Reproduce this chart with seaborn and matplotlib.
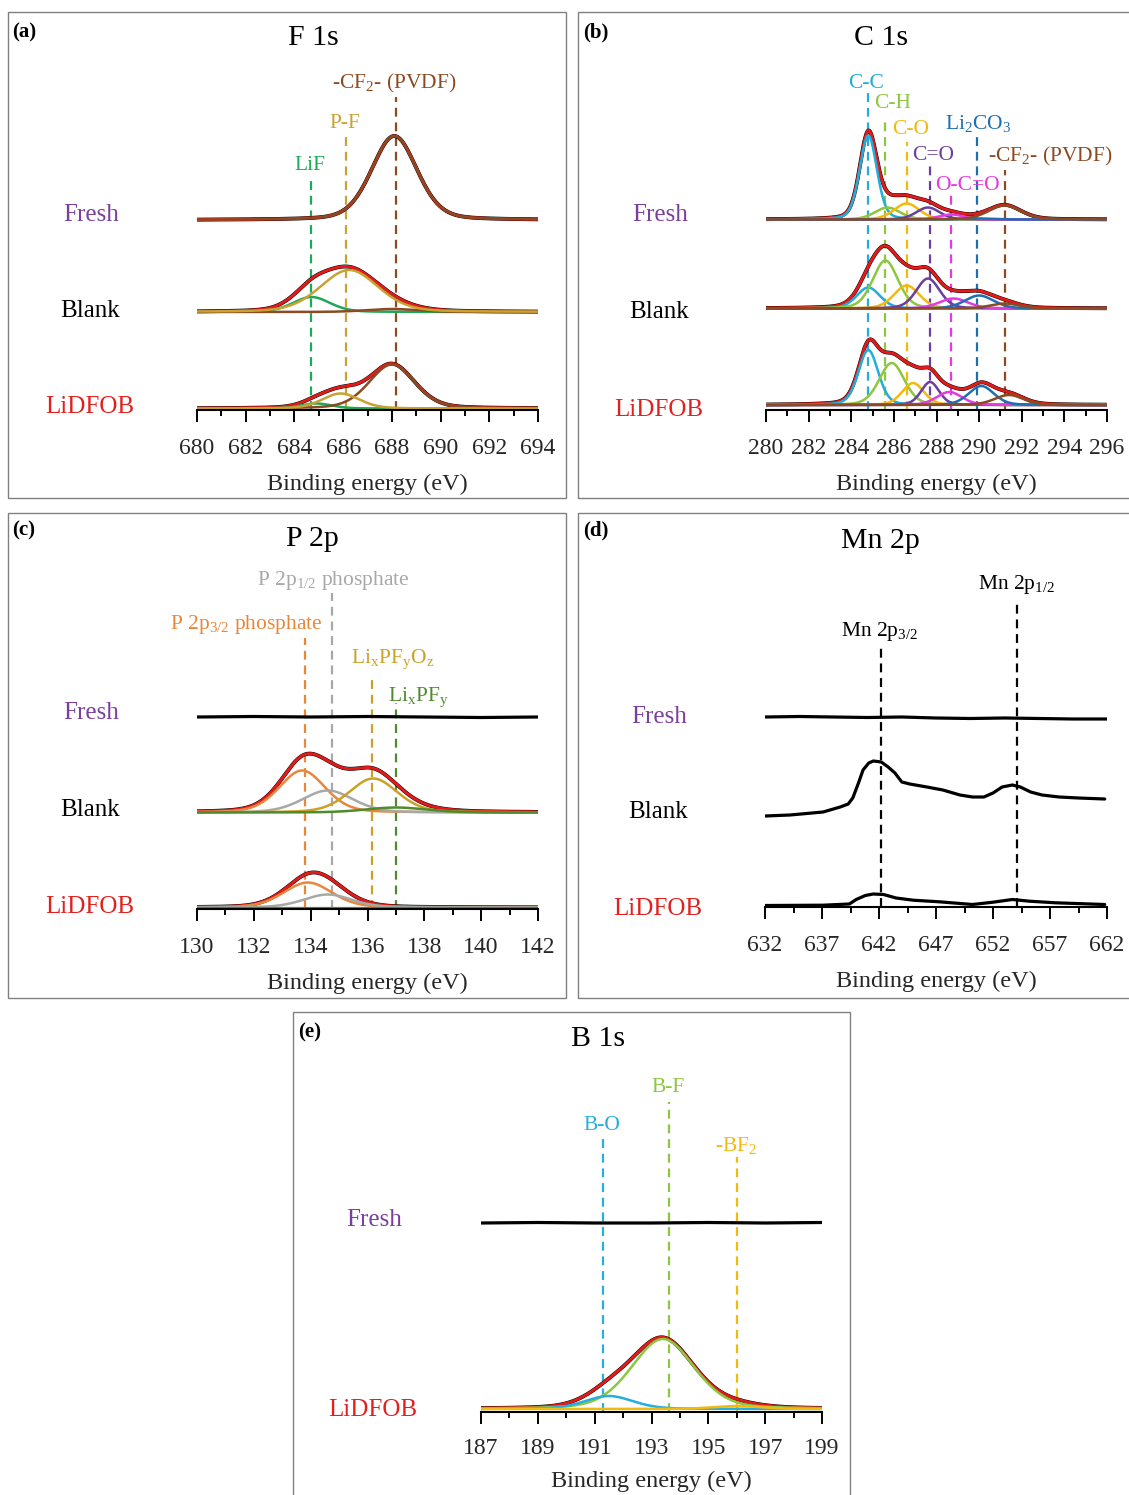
import numpy as np
import matplotlib
matplotlib.use("Agg")
import matplotlib.pyplot as plt
import seaborn as sns
from matplotlib.patches import Rectangle

# ---------------------------------------------------------------- data
# Fitted components: centre (eV), height (a.u.), FWHM (eV)

# F 1s : LiF, P-F, -CF2- (PVDF)
f1s_names = ["LiF", "P-F", "-CF$_2$- (PVDF)"]
f1s_marker_ev = [684.7, 686.1, 688.15]
f1s_fresh_center = [684.7, 686.2, 688.1]
f1s_fresh_height = [0, 0, 84]
f1s_fresh_fwhm = [1.8, 2.8, 2.2]
f1s_blank_center = [684.7, 686.25, 688.0]
f1s_blank_height = [15, 42, 3]
f1s_blank_fwhm = [1.8, 2.8, 2.5]
f1s_lidfob_center = [684.9, 685.9, 688.0]
f1s_lidfob_height = [5, 15, 44]
f1s_lidfob_fwhm = [1.5, 1.8, 2.2]

# C 1s : C-C, C-H, C-O, C=O, O-C=O, Li2CO3, -CF2- (PVDF)
c1s_names = ["C-C", "C-H", "C-O", "C=O", "O-C=O", "Li$_2$CO$_3$", "-CF$_2$- (PVDF)"]
c1s_marker_ev = [284.8, 285.6, 286.6, 287.7, 288.7, 289.9, 291.2]
c1s_fresh_center = [284.8, 285.7, 286.6, 287.6, 288.7, 290.0, 291.2]
c1s_fresh_height = [84, 12, 16, 12, 5, 1, 14]
c1s_fresh_fwhm = [0.95, 1.4, 1.4, 1.3, 1.4, 1.6, 1.8]
c1s_blank_center = [284.8, 285.6, 286.6, 287.6, 288.8, 290.0, 291.2]
c1s_blank_height = [21, 48, 23, 30, 10, 13, 5]
c1s_blank_fwhm = [1.3, 1.4, 1.4, 1.3, 1.6, 1.6, 1.6]
c1s_lidfob_center = [284.8, 285.9, 286.9, 287.7, 288.6, 290.1, 291.4]
c1s_lidfob_height = [55, 42, 22, 23, 13, 19, 10]
c1s_lidfob_fwhm = [1.1, 1.4, 1.2, 1.0, 1.4, 1.4, 1.6]

# P 2p : P 2p3/2 phosphate, P 2p1/2 phosphate, LixPFyOz, LixPFy
p2p_names = ["P 2p$_{3/2}$ phosphate", "P 2p$_{1/2}$ phosphate",
             "Li$_x$PF$_y$O$_z$", "Li$_x$PF$_y$"]
p2p_marker_ev = [133.8, 134.75, 136.15, 137.0]
p2p_fresh_ev = [130, 132, 134, 136, 138, 140, 142]
p2p_fresh_int = [0, 0.5, 0, 0.5, 0, -0.5, 0]
p2p_blank_center = [133.7, 134.6, 136.2, 137.0]
p2p_blank_height = [42, 22, 34, 5]
p2p_blank_fwhm = [1.9, 2.1, 2.0, 2.5]
p2p_lidfob_center = [133.9, 134.6, 136.2, 137.0]
p2p_lidfob_height = [25, 13, 0, 0]
p2p_lidfob_fwhm = [2.0, 2.0, 1.8, 2.5]

# Mn 2p : measured spectra
mn2p_marker_ev = [642.2, 654.1]
mn2p_fresh_ev = [632, 635, 638, 641, 644, 647, 650, 653, 656, 659, 662]
mn2p_fresh_int = [0, 0.5, 0, -0.5, 0, -1, -1.5, -1, -1.5, -2, -2]
mn2p_blank_ev = [632.0, 634.2, 637.1, 638.6, 639.3, 639.7, 640.2, 640.6,
                 641.1, 641.5, 642.2, 642.8, 643.4, 644.0, 644.7, 646.2,
                 647.6, 649.1, 650.2, 651.2, 652.0, 652.8, 653.7, 654.4,
                 655.3, 656.3, 657.8, 659.5, 661.8]
mn2p_blank_int = [0, 1, 4, 9, 12, 18, 33, 46, 53, 55, 54, 49, 43, 34, 32,
                  29, 26, 21, 19, 19, 23, 29, 31, 29, 24, 21, 19, 18, 17]
mn2p_lidfob_ev = [632.0, 637.1, 639.4, 640.0, 640.8, 641.5, 642.4, 643.5,
                  645.0, 647.3, 650.2, 652.0, 653.7, 655.2, 657.5, 661.8]
mn2p_lidfob_int = [0, 0.3, 1.5, 6, 10, 11.5, 11, 7.5, 5.3, 3.7, 1, 3.3, 6,
                   4.3, 2.7, 1]

# B 1s : B-O, B-F, -BF2
b1s_names = ["B-O", "B-F", "-BF$_2$"]
b1s_marker_ev = [191.3, 193.6, 196.0]
b1s_fresh_ev = [187, 189, 191, 193, 195, 197, 199]
b1s_fresh_int = [0, 0.5, 0, 0, 0.5, 0, 0.5]
b1s_lidfob_center = [191.5, 193.4, 196.0]
b1s_lidfob_height = [13, 70, 3]
b1s_lidfob_fwhm = [2.0, 2.6, 2.0]

samples = ["Fresh", "Blank", "LiDFOB"]

# ---------------------------------------------------------------- style
sns.set_style("white")
plt.rcParams["font.family"] = ["Liberation Serif", "DejaVu Serif"]
plt.rcParams["mathtext.fontset"] = "custom"
plt.rcParams["mathtext.rm"] = "Liberation Serif"
plt.rcParams["mathtext.it"] = "Liberation Serif:italic"
plt.rcParams["mathtext.default"] = "regular"

RED = "#E01B1B"
SAMPLE_COLORS = {"Fresh": "#7B3F9E", "Blank": "black", "LiDFOB": "#E0211F"}
F1S_COLORS = ["#1EA85A", "#C8A232", "#8B4A22"]
C1S_COLORS = ["#22AEDC", "#8DC63F", "#F2B90F", "#6B3FA0", "#E33BE0",
              "#1F6FB0", "#8B4A22"]
P2P_COLORS = ["#E8873C", "#A8A8A8", "#C9A227", "#4E8B2E"]
B1S_COLORS = ["#26AEDC", "#8DC63F", "#F2B90F"]

W, H = 1129, 1495
fig = plt.figure(figsize=(W / 100, H / 100), dpi=100)


def fx(px):
    return px / W


def fy(py):
    return 1 - py / H


def ftext(x, y, s, size, color="black", weight="normal", ha="center"):
    fig.text(fx(x), fy(y), s, fontsize=size, color=color, weight=weight,
             ha=ha, va="center")


def frame(x0, y0, x1, y1):
    fig.patches.append(Rectangle((fx(x0), fy(y1)), (x1 - x0) / W, (y1 - y0) / H,
                                 transform=fig.transFigure, fill=False,
                                 edgecolor="#808080", linewidth=1.0))


def make_axes(x0, x1, y_axis, top, xlim, majors, minors, label_gap=64,
              pad=11.5):
    ax = fig.add_axes([fx(x0), fy(y_axis), (x1 - x0) / W, (y_axis - top) / H])
    ax.set_xlim(*xlim)
    ax.set_ylim(0, y_axis - top)
    ax.set_xticks(majors)
    ax.set_xticks(minors, minor=True)
    ax.set_xticklabels([str(int(v)) for v in majors])
    ax.set_yticks([])
    for s in ["left", "top", "right"]:
        ax.spines[s].set_visible(False)
    ax.spines["bottom"].set_linewidth(1.5)
    ax.spines["bottom"].set_color("black")
    ax.tick_params(axis="x", which="major", direction="out", length=8.5,
                   width=1.4, labelsize=17, pad=pad, color="black",
                   bottom=True)
    ax.tick_params(axis="x", which="minor", direction="out", length=4,
                   width=1.4, color="black", bottom=True)
    ax.patch.set_alpha(0)
    ax.set_xlabel("Binding energy (eV)", fontsize=17.5)
    ax.xaxis.set_label_coords(0.5, -label_gap / (y_axis - top))
    return ax


def component(ev, c, h, w, eta=0.25):
    g = np.exp(-4 * np.log(2) * ((ev - c) / w) ** 2)
    lo = 1 / (1 + 4 * ((ev - c) / w) ** 2)
    return h * ((1 - eta) * g + eta * lo)


def draw_fit(ax, ev, offset, centers, heights, fwhms, colors, order):
    comps = [component(ev, c, h, w) for c, h, w in zip(centers, heights, fwhms)]
    env = np.sum(comps, axis=0)
    sns.lineplot(x=ev, y=env + offset, ax=ax, color="black", linewidth=2.8,
                 sort=False, estimator=None)
    sns.lineplot(x=ev, y=env + offset, ax=ax, color=RED, linewidth=2.2,
                 sort=False, estimator=None)
    for i in order:
        if heights[i] > 0:
            sns.lineplot(x=ev, y=comps[i] + offset, ax=ax, color=colors[i],
                         linewidth=1.8, sort=False, estimator=None)


def draw_raw(ax, ev, vals, offset):
    sns.lineplot(x=np.asarray(ev, float), y=np.asarray(vals, float) + offset,
                 ax=ax, color="black", linewidth=2.3, sort=False,
                 estimator=None)


def marker(ax, ev, y_axis, top_px, color):
    ax.plot([ev, ev], [0, y_axis - top_px], color=color, linewidth=1.6,
            linestyle=(0, (4, 2.6)), zorder=1)


def sample_labels(positions):
    for name, (x, y) in zip(samples, positions):
        ftext(x, y, name, 18, color=SAMPLE_COLORS[name])


# ---------------------------------------------------------------- frames
frame(8, 12, 566, 498)
frame(578, 12, 1135, 498)
frame(8, 513, 566, 998)
frame(578, 513, 1135, 998)
frame(293, 1012, 850, 1500)

# ---------------------------------------------------------------- (a) F 1s
ax = make_axes(197, 538, 410, 60, (680, 694), np.arange(680, 695, 2),
               np.arange(680, 695, 1))
ev = np.linspace(680, 694, 700)
for i, (ev_m, top) in enumerate(zip(f1s_marker_ev, [180, 137, 97])):
    marker(ax, ev_m, 410, top, F1S_COLORS[i])
draw_fit(ax, ev, 190, f1s_fresh_center, f1s_fresh_height, f1s_fresh_fwhm,
         F1S_COLORS, [0, 1, 2])
draw_fit(ax, ev, 98, f1s_blank_center, f1s_blank_height, f1s_blank_fwhm,
         F1S_COLORS, [0, 2, 1])
draw_fit(ax, ev, 1.5, f1s_lidfob_center, f1s_lidfob_height, f1s_lidfob_fwhm,
         F1S_COLORS, [0, 2, 1])
for name, (x, y), col in zip(f1s_names, [(310, 166), (345, 123), (394, 83)],
                             F1S_COLORS):
    ftext(x, y, name, 15.5, color=col)
ftext(313, 38, "F 1s", 21.5)
ftext(12, 32, "(a)", 15, weight="bold", ha="left")
sample_labels([(91, 215), (90, 311), (90, 407)])

# ---------------------------------------------------------------- (b) C 1s
ax = make_axes(766, 1107, 410, 60, (280, 296), np.arange(280, 297, 2),
               np.arange(280, 297, 1))
ev = np.linspace(280, 296, 800)
for i, (ev_m, top) in enumerate(zip(c1s_marker_ev,
                                    [93, 117, 142, 166, 192, 137, 170])):
    marker(ax, ev_m, 410, top, C1S_COLORS[i])
order = list(range(7))
draw_fit(ax, ev, 190.5, c1s_fresh_center, c1s_fresh_height, c1s_fresh_fwhm,
         C1S_COLORS, order)
draw_fit(ax, ev, 101.5, c1s_blank_center, c1s_blank_height, c1s_blank_fwhm,
         C1S_COLORS, order)
draw_fit(ax, ev, 5, c1s_lidfob_center, c1s_lidfob_height, c1s_lidfob_fwhm,
         C1S_COLORS, order)
label_pos = [(866, 83), (893, 104), (911, 129), (933, 156), (967, 185),
             (978, 124), (1050, 156)]
for name, (x, y), col in zip(c1s_names, label_pos, C1S_COLORS):
    ftext(x, y, name, 15.5, color=col)
ftext(881, 38, "C 1s", 21.5)
ftext(583, 32, "(b)", 15, weight="bold", ha="left")
sample_labels([(660, 215), (659, 312), (659, 410)])

# ---------------------------------------------------------------- (c) P 2p
ax = make_axes(197, 538, 909, 560, (130, 142), np.arange(130, 143, 2),
               np.arange(130, 143, 1))
ev = np.linspace(130, 142, 700)
for i, (ev_m, top) in enumerate(zip(p2p_marker_ev, [638, 593, 675, 703])):
    marker(ax, ev_m, 909, top, P2P_COLORS[i])
draw_raw(ax, p2p_fresh_ev, p2p_fresh_int, 192)
draw_fit(ax, ev, 96.5, p2p_blank_center, p2p_blank_height, p2p_blank_fwhm,
         P2P_COLORS, [0, 1, 2, 3])
draw_fit(ax, ev, 1.5, p2p_lidfob_center, p2p_lidfob_height, p2p_lidfob_fwhm,
         P2P_COLORS, [0, 1, 2, 3])
sns.lineplot(x=ev, y=np.full_like(ev, 1.5), ax=ax, color=P2P_COLORS[3],
             linewidth=1.6)
label_pos = [(246, 624), (333, 581), (393, 659), (418, 697)]
for name, (x, y), col in zip(p2p_names, label_pos, P2P_COLORS):
    ftext(x, y, name, 15.5, color=col)
ftext(312, 539, "P 2p", 21.5)
ftext(12, 530, "(c)", 15, weight="bold", ha="left")
sample_labels([(91, 713), (90, 810), (90, 907)])

# ---------------------------------------------------------------- (d) Mn 2p
ax = make_axes(765, 1107, 907, 560, (632, 662), np.arange(632, 663, 5),
               np.arange(632, 663, 2.5))
for ev_m, top in zip(mn2p_marker_ev, [643, 600]):
    marker(ax, ev_m, 907, top, "black")
draw_raw(ax, mn2p_fresh_ev, mn2p_fresh_int, 190)
draw_raw(ax, mn2p_blank_ev, mn2p_blank_int, 91)
draw_raw(ax, mn2p_lidfob_ev, mn2p_lidfob_int, 1.5)
ftext(880, 631, "Mn 2p$_{3/2}$", 15.5)
ftext(1017, 585, "Mn 2p$_{1/2}$", 15.5)
ftext(880, 541, "Mn 2p", 21.5)
ftext(583, 530, "(d)", 15, weight="bold", ha="left")
sample_labels([(659, 717), (658, 812), (658, 909)])

# ---------------------------------------------------------------- (e) B 1s
ax = make_axes(481, 822, 1412, 1060, (187, 199), np.arange(187, 200, 2),
               np.arange(187, 200, 1), label_gap=59, pad=10.5)
ev = np.linspace(187, 199, 700)
for i, (ev_m, top) in enumerate(zip(b1s_marker_ev, [1137, 1102, 1157])):
    marker(ax, ev_m, 1412, top, B1S_COLORS[i])
draw_raw(ax, b1s_fresh_ev, b1s_fresh_int, 189)
draw_fit(ax, ev, 3, b1s_lidfob_center, b1s_lidfob_height, b1s_lidfob_fwhm,
         B1S_COLORS, [1, 0, 2])
for name, (x, y), col in zip(b1s_names, [(602, 1125), (668, 1088), (736, 1146)],
                             B1S_COLORS):
    ftext(x, y, name, 15.5, color=col)
ftext(598, 1039, "B 1s", 21.5)
ftext(298, 1032, "(e)", 15, weight="bold", ha="left")
ftext(374, 1220, "Fresh", 18, color=SAMPLE_COLORS["Fresh"])
ftext(373, 1410, "LiDFOB", 18, color=SAMPLE_COLORS["LiDFOB"])

fig.savefig("out.png", dpi=100)
